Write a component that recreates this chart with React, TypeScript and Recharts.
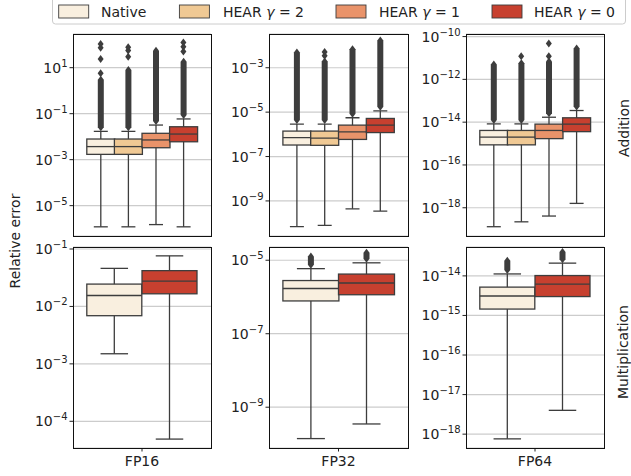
import React from "react";
import { ComposedChart, Bar, Scatter, XAxis, YAxis, CartesianGrid } from "recharts";

const HUES = ["Native", "HEAR γ = 2", "HEAR γ = 1", "HEAR γ = 0"];
const MUL_HUES = ["Native", "HEAR γ = 0"];
const OPS = ["Addition", "Multiplication"];

// per hue: [whisker low, q1, median, q3, whisker high, top of the dense flier run]
const addFp16 = [
  [1.2e-6, 1.7e-3, 3.7e-3, 7.9e-3, 1.7e-2, 3.0],
  [1.2e-6, 1.7e-3, 3.7e-3, 7.9e-3, 1.7e-2, 7.9],
  [1.5e-6, 3.3e-3, 7.2e-3, 1.4e-2, 3.2e-2, 55],
  [1.2e-6, 6.0e-3, 1.3e-2, 2.7e-2, 5.9e-2, 18],
];
const addFp32 = [
  [6.9e-11, 3.3e-7, 7.1e-7, 1.4e-6, 2.9e-6, 4.8e-3],
  [7.9e-11, 3.2e-7, 6.8e-7, 1.4e-6, 2.9e-6, 1.9e-3],
  [4.4e-10, 5.9e-7, 1.3e-6, 2.6e-6, 5.6e-6, 6.8e-3],
  [3.5e-10, 1.2e-6, 2.6e-6, 5.2e-6, 1.15e-5, 1.7e-2],
];
const addFp64 = [
  [1.3e-19, 8.7e-16, 2.0e-15, 4.1e-15, 8.3e-15, 5.0e-12],
  [2.2e-19, 8.7e-16, 2.0e-15, 4.1e-15, 8.3e-15, 5.6e-12],
  [4.1e-19, 1.7e-15, 4.1e-15, 8.1e-15, 1.7e-14, 6.8e-12],
  [1.6e-18, 3.6e-15, 8.1e-15, 1.6e-14, 3.5e-14, 2.8e-11],
];
const mulFp16 = [
  [1.5e-3, 6.9e-3, 1.55e-2, 2.45e-2, 4.6e-2, null],
  [4.9e-5, 1.66e-2, 2.75e-2, 4.2e-2, 7.6e-2, null],
];
const mulFp32 = [
  [1.4e-10, 7.8e-7, 1.7e-6, 2.8e-6, 5.9e-6, 1.26e-5],
  [3.5e-10, 1.15e-6, 2.4e-6, 4.2e-6, 8.5e-6, 1.6e-5],
];
const mulFp64 = [
  [7.6e-19, 1.45e-15, 3.1e-15, 5.2e-15, 1.12e-14, 2.4e-14],
  [4.0e-18, 3.0e-15, 6.2e-15, 1.02e-14, 2.1e-14, 4.0e-14],
];

// isolated fliers above the dense run: [hue index, value]
const addFp16Fliers = [
  [0, 5.8], [0, 24], [0, 74], [0, 107],
  [1, 30], [1, 56], [1, 78],
  [3, 50], [3, 81], [3, 123],
];
const addFp32Fliers = [[1, 3.5e-3], [1, 5.1e-3]];
const addFp64Fliers = [[1, 1.2e-11], [2, 1.2e-11], [2, 4.8e-11]];

const addFp16Ticks = [1e1, 1e-1, 1e-3, 1e-5];
const addFp32Ticks = [1e-3, 1e-5, 1e-7, 1e-9];
const addFp64Ticks = [1e-10, 1e-12, 1e-14, 1e-16, 1e-18];
const mulFp16Ticks = [1e-1, 1e-2, 1e-3, 1e-4];
const mulFp32Ticks = [1e-5, 1e-7, 1e-9];
const mulFp64Ticks = [1e-14, 1e-15, 1e-16, 1e-17, 1e-18];

const HUE_COLORS: Record<string, string> = {
  Native: "#f9efdf",
  "HEAR γ = 2": "#f0c994",
  "HEAR γ = 1": "#e9936a",
  "HEAR γ = 0": "#c7402f",
};
const LINE = "#3d3d3d";
const FRAME = "#111";
const FONT = "DejaVu Sans, sans-serif";

type Panel = {
  hues: string[];
  stats: (number | null)[][];
  fliers: number[][];
  ticks: number[];
  domain: [number, number];
  left: number;
  top: number;
  width: number;
  height: number;
  label: string;
  showLabel: boolean;
};

const PANELS: Panel[] = [
  { hues: HUES, stats: addFp16, fliers: addFp16Fliers, ticks: addFp16Ticks, domain: [10 ** -6.32, 10 ** 2.465], left: 73, top: 34, width: 138, height: 202, label: "FP16", showLabel: false },
  { hues: HUES, stats: addFp32, fliers: addFp32Fliers, ticks: addFp32Ticks, domain: [10 ** -10.58, 10 ** -1.48], left: 269, top: 34, width: 139, height: 202, label: "FP32", showLabel: false },
  { hues: HUES, stats: addFp64, fliers: addFp64Fliers, ticks: addFp64Ticks, domain: [10 ** -19.32, 10 ** -9.88], left: 466, top: 34, width: 138, height: 202, label: "FP64", showLabel: false },
  { hues: MUL_HUES, stats: mulFp16, fliers: [], ticks: mulFp16Ticks, domain: [10 ** -4.465, 10 ** -0.965], left: 73, top: 247, width: 138, height: 201, label: "FP16", showLabel: true },
  { hues: MUL_HUES, stats: mulFp32, fliers: [], ticks: mulFp32Ticks, domain: [10 ** -10.11, 10 ** -4.64], left: 269, top: 247, width: 139, height: 201, label: "FP32", showLabel: true },
  { hues: MUL_HUES, stats: mulFp64, fliers: [], ticks: mulFp64Ticks, domain: [10 ** -18.35, 10 ** -13.27], left: 466, top: 247, width: 138, height: 201, label: "FP64", showLabel: true },
];

function span(p: any) {
  const top = Math.min(p.y, p.y + p.height);
  const bot = Math.max(p.y, p.y + p.height);
  return { top, bot, cx: p.x + p.width / 2 };
}

function WhiskerShape(p: any) {
  const { top, bot, cx } = span(p);
  const cap = p.width / 4;
  return (
    <g stroke={LINE} strokeWidth={1.3}>
      <line x1={cx} x2={cx} y1={top} y2={bot} />
      <line x1={cx - cap} x2={cx + cap} y1={top} y2={top} />
      <line x1={cx - cap} x2={cx + cap} y1={bot} y2={bot} />
    </g>
  );
}

function BoxShape(p: any) {
  const { top, bot } = span(p);
  return (
    <rect x={p.x} y={top} width={p.width} height={bot - top}
      fill={HUE_COLORS[p.payload.name]} stroke={LINE} strokeWidth={1.3} />
  );
}

function MedianShape(p: any) {
  const { top } = span(p);
  return <line x1={p.x} x2={p.x + p.width} y1={top} y2={top} stroke={LINE} strokeWidth={1.3} />;
}

function DenseShape(p: any) {
  if (p.payload.fliers == null) return <g />;
  const { top, bot: b, cx } = span(p);
  const bot = b - 4;
  return (
    <polygon
      points={`${cx},${top - 4} ${cx + 3},${top} ${cx + 3},${bot} ${cx},${bot + 4} ${cx - 3},${bot} ${cx - 3},${top}`}
      fill={LINE}
    />
  );
}

function Diamond(p: any) {
  const { cx, cy } = p;
  return <polygon points={`${cx},${cy - 4} ${cx + 3},${cy} ${cx},${cy + 4} ${cx - 3},${cy}`} fill={LINE} />;
}

function PowTick(props: any) {
  const { x, y, payload } = props;
  const exp = Math.round(Math.log10(payload.value));
  const sup = exp < 0 ? `\u2212${-exp}` : `${exp}`;
  return (
    <text x={x} y={y} dy={5} textAnchor="end" fontFamily={FONT} fontSize={14} fill="#222">
      <tspan>10</tspan>
      <tspan dy={-6} fontSize={10}>{sup}</tspan>
    </text>
  );
}

function BoxPanel({ p }: { p: Panel }) {
  const n = p.hues.length;
  const pad = p.width * 0.1;
  const rows = p.stats.map((s, i) => ({
    name: p.hues[i],
    group: p.label,
    whisker: [s[0], s[4]],
    box: [s[1], s[3]],
    median: [s[1], s[2]],
    fliers: s[5] == null ? null : [s[4], s[5]],
  }));
  const pts = p.fliers.map(([i, v]) => ({ x: i, y: v }));
  const hasDense = p.stats.some((s) => s[5] != null);
  // one hidden band axis per layer so the layers overlap instead of sitting side by side
  const catAxis = (id: string) => (
    <XAxis key={id} xAxisId={id} dataKey="name" type="category" orientation="top" hide
      padding={{ left: pad, right: pad }} />
  );

  return (
    <>
      <div style={{ position: "absolute", left: p.left - 60, top: p.top - 10 }}>
        <ComposedChart
          width={p.width + 70}
          height={p.height + 40}
          data={rows}
          margin={{ top: 10, right: 10, bottom: 0, left: 0 }}
          barCategoryGap={0}
          barGap={0}
        >
          <XAxis
            xAxisId="grp"
            dataKey="group"
            type="category"
            allowDuplicatedCategory={false}
            height={30}
            axisLine={false}
            tickLine={p.showLabel ? { stroke: "#222" } : false}
            tick={p.showLabel ? { fill: "#222", fontSize: 14, fontFamily: FONT } : false}
            tickSize={3.5}
            tickMargin={5}
          />
          {catAxis("wh")}
          {catAxis("out")}
          {catAxis("box")}
          {catAxis("med")}
          <XAxis xAxisId="sx" type="number" dataKey="x" orientation="top" hide allowDataOverflow
            domain={[-0.5 - n / 8, n - 0.5 + n / 8]} />
          <YAxis
            yAxisId="y"
            type="number"
            scale="log"
            domain={p.domain}
            allowDataOverflow
            ticks={p.ticks}
            interval={0}
            width={60}
            tick={<PowTick />}
            tickSize={3.5}
            tickMargin={2}
            tickLine={{ stroke: "#222" }}
            axisLine={false}
          />
          <CartesianGrid xAxisId="box" yAxisId="y" vertical={false} stroke="#cccccc" strokeWidth={1.2} />
          <Bar xAxisId="wh" yAxisId="y" dataKey="whisker" shape={WhiskerShape} isAnimationActive={false} />
          {hasDense && (
            <Bar xAxisId="out" yAxisId="y" dataKey="fliers" shape={DenseShape} isAnimationActive={false} />
          )}
          <Bar xAxisId="box" yAxisId="y" dataKey="box" shape={BoxShape} isAnimationActive={false} />
          <Bar xAxisId="med" yAxisId="y" dataKey="median" shape={MedianShape} isAnimationActive={false} />
          {pts.length > 0 && (
            <Scatter xAxisId="sx" yAxisId="y" data={pts} dataKey="y" shape={Diamond} isAnimationActive={false} />
          )}
        </ComposedChart>
      </div>
      <div
        style={{
          position: "absolute",
          left: p.left - 0.5,
          top: p.top - 0.5,
          width: p.width + 1,
          height: p.height + 1,
          border: `1px solid ${FRAME}`,
          boxSizing: "border-box",
          pointerEvents: "none",
        }}
      />
    </>
  );
}

const LEGEND_PATCH_X = [58.7, 179.4, 336, 492];
const LEGEND_TEXT_X = [101, 223, 379, 534];

function LegendLabel({ name, x }: { name: string; x: number }) {
  const m = name.match(/^(HEAR) γ = (\d)$/);
  return (
    <text x={x} y={17} fontFamily={FONT} fontSize={14} fill="#222">
      {m ? (
        <>
          <tspan>{m[1]} </tspan>
          <tspan fontStyle="italic">γ</tspan>
          <tspan> = {m[2]}</tspan>
        </>
      ) : (
        name
      )}
    </text>
  );
}

export default function App() {
  return (
    <div style={{ position: "absolute", left: 0, top: 0, width: 631, height: 476, background: "#fff", overflow: "hidden" }}>
      {PANELS.map((p, i) => (
        <BoxPanel key={i} p={p} />
      ))}
      <svg width={631} height={476} style={{ position: "absolute", left: 0, top: 0, pointerEvents: "none" }}>
        <rect x={52.5} y={-4} width={573} height={28} rx={3} fill="#fff" stroke="#cccccc" />
        {HUES.map((h, i) => (
          <g key={h}>
            <rect x={LEGEND_PATCH_X[i]} y={5} width={30} height={13} fill={HUE_COLORS[h]} stroke={LINE} strokeWidth={0.9} />
            <LegendLabel name={h} x={LEGEND_TEXT_X[i]} />
          </g>
        ))}
        <text x={20} y={241} transform="rotate(-90 20 241)" textAnchor="middle" fontFamily={FONT} fontSize={14} fill="#222">
          Relative error
        </text>
        <text x={629} y={128} transform="rotate(-90 629 128)" textAnchor="middle" fontFamily={FONT} fontSize={14} fill="#222">
          {OPS[0]}
        </text>
        <text x={628} y={352} transform="rotate(-90 628 352)" textAnchor="middle" fontFamily={FONT} fontSize={14} fill="#222">
          {OPS[1]}
        </text>
      </svg>
    </div>
  );
}
